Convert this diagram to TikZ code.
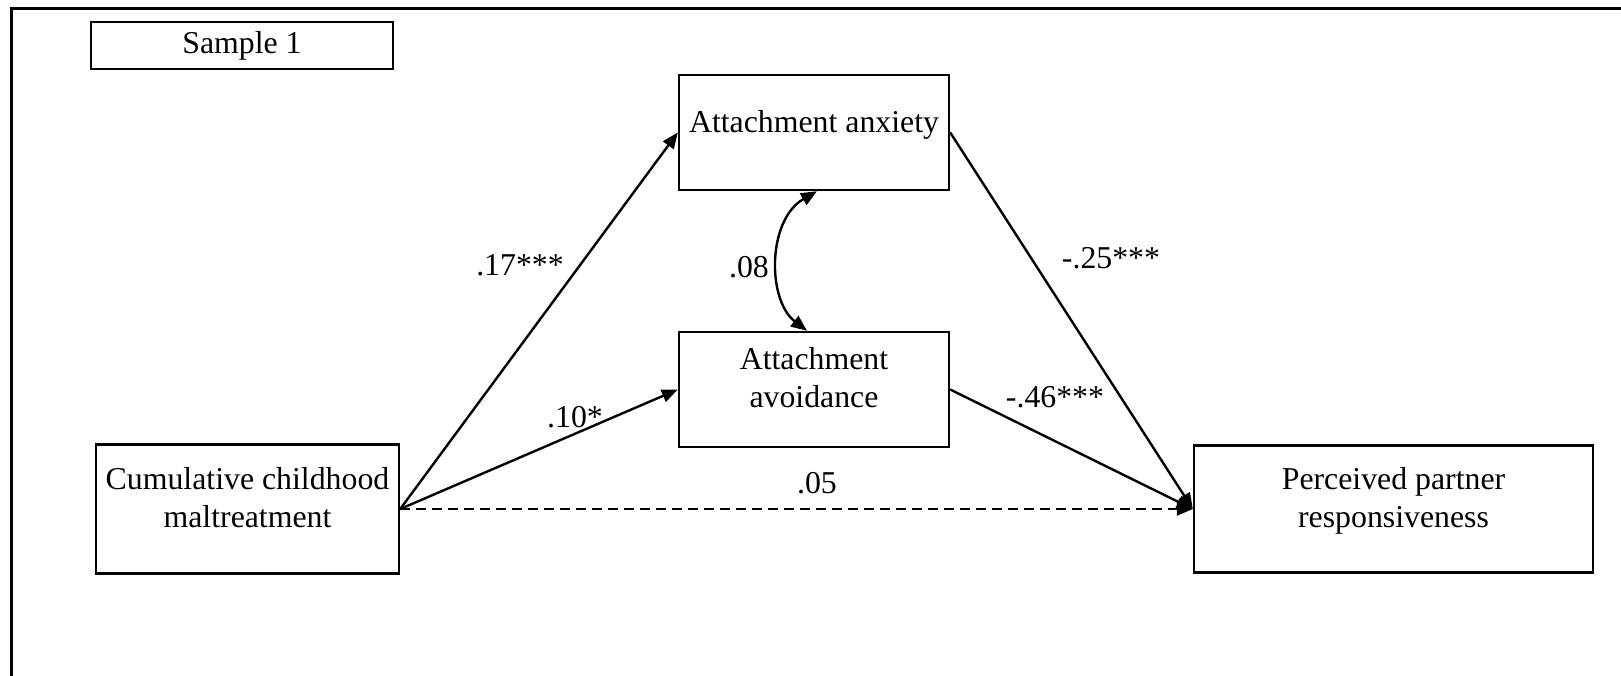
\documentclass[tikz,border=0pt]{standalone}
\usepackage{fontspec}
\setmainfont{Liberation Serif}
\usetikzlibrary{arrows.meta,calc}
\newcommand\twoline[2]{\begin{tabular}[t]{@{}c@{}}#1\\#2\end{tabular}}
\begin{document}
\begin{tikzpicture}[x=0.5pt,y=-0.5pt,
  box/.style={draw,line width=1.2pt,inner sep=0pt},
  txt/.style={font=\fontsize{15.9}{19.25}\selectfont,inner sep=0pt,anchor=base},
  tip/.tip={Triangle[length=8pt,width=6.5pt]},
  link/.style={line width=1.2pt,-tip},
  direct/.style={line width=1.2pt,dash pattern=on 5pt off 3pt,-tip}]
\useasboundingbox (0,0) rectangle (1621,675);
% outer frame (right and bottom edges lie outside the picture)
\draw[line width=1.5pt] (11.5,720) -- (11.5,8) -- (1700,8);
% boxes
\node[box,line width=1.4pt,minimum width=151pt,minimum height=23.5pt] (s1) at (242,45.5) {};
\node[box,minimum width=135pt,minimum height=57.5pt] (anx) at (814,132.5) {};
\node[box,minimum width=135pt,minimum height=57.5pt] (avo) at (814,389.5) {};
\node[box,minimum width=151.5pt,minimum height=64.5pt] (cum) at (247.5,509) {};
\node[box,minimum width=199.5pt,minimum height=63.5pt] (perc) at (1393.5,509) {};
% box texts
\node[txt] (s1t) at (242,53) {Sample 1};
\node[txt] (anxt) at (814,132) {Attachment anxiety};
\node[txt] (avot) at (814,369) {\twoline{Attachment}{avoidance}};
\node[txt] (cumt) at (247.5,489) {\twoline{Cumulative childhood}{maltreatment}};
\node[txt] (perct) at (1393.5,489) {\twoline{Perceived partner}{responsiveness}};
% paths
\draw[link] (cum.east) -- (anx.west);
\draw[link] (cum.east) -- (avo.west);
\draw[link] (anx.east) -- (perc.west);
\draw[link] (avo.east) -- (perc.west);
\draw[direct] (cum.east) -- (perc.west);
\draw[line width=1.2pt,tip-tip] ($(anx.south)+(3,0)$) .. controls (767,220) and (767,300) .. ($(avo.north)+(-7,0)$);
% coefficients
\node[txt] (l17) at (520,275) {.17***};
\node[txt] (l10) at (575,427) {.10*};
\node[txt] (l08) at (749,277) {.08};
\node[txt] (l25) at (1111,268) {-.25***};
\node[txt] (l46) at (1055,407) {-.46***};
\node[txt] (l05) at (817,493) {.05};
\end{tikzpicture}
\end{document}
